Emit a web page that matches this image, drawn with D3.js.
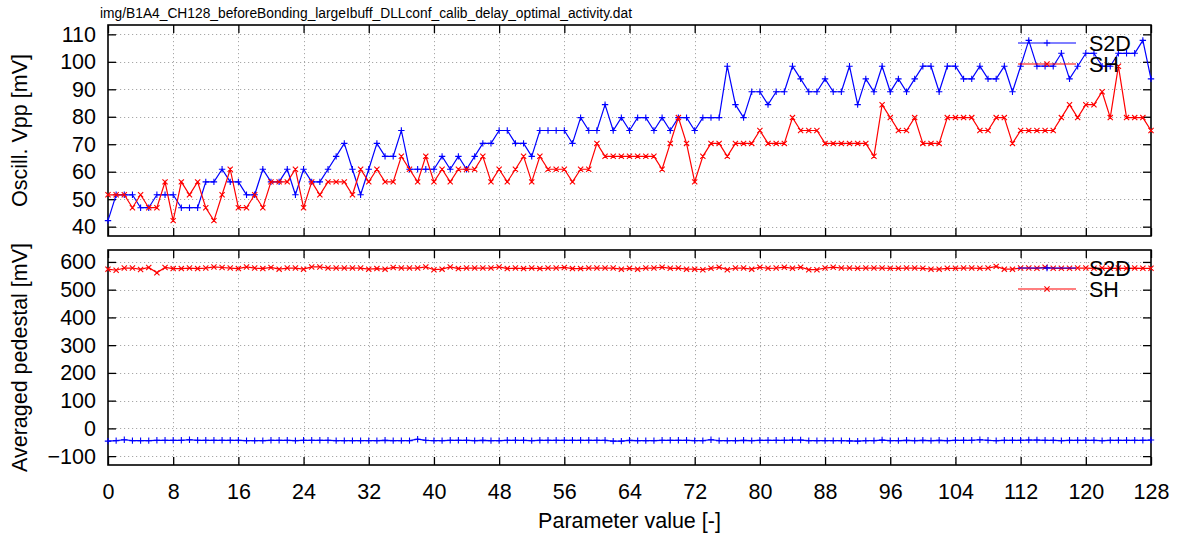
<!DOCTYPE html>
<html>
<head>
<meta charset="utf-8">
<script src="https://cdn.jsdelivr.net/npm/d3@7"></script>
<style>
  body { margin: 0; background: #fff; }
  svg { display: block; }
  text { font-family: "Liberation Sans", Arial, Helvetica, sans-serif; fill: #000; }
</style>
</head>
<body>
<svg id="chart" width="1178" height="535"></svg>
<script>
// Scanned DLL parameter values
const params = d3.range(0, 129);

// Oscilloscope peak-to-peak amplitude [mV]
const s2dVpp = [
  42.2,51.6,51.6,51.6,46.9,46.9,51.6,51.6,51.6,46.9,46.9,46.9,56.3,56.3,60.9,56.3,
  56.3,51.6,51.6,60.9,56.3,56.3,60.9,51.6,60.9,56.3,56.3,60.9,65.6,70.3,60.9,51.6,
  60.9,70.3,65.6,65.6,75.0,60.9,60.9,60.9,60.9,65.6,60.9,65.6,60.9,65.6,70.3,70.3,
  75.0,75.0,70.3,70.3,65.6,75.0,75.0,75.0,75.0,70.3,79.7,75.0,75.0,84.4,75.0,79.7,
  75.0,79.7,79.7,75.0,79.7,75.0,79.7,79.7,75.0,79.7,79.7,79.7,98.4,84.4,79.7,89.1,
  89.1,84.4,89.1,89.1,98.4,93.8,89.1,89.1,93.8,89.1,89.1,98.4,84.4,93.8,89.1,98.4,
  89.1,93.8,89.1,93.8,98.4,98.4,89.1,98.4,98.4,93.8,93.8,98.4,93.8,93.8,98.4,89.1,
  98.4,107.8,98.4,98.4,98.4,103.1,93.8,98.4,103.1,103.1,98.4,98.4,103.1,103.1,103.1,107.8,
  93.8
];
const shVpp = [
  51.6,51.6,51.6,46.9,51.6,46.9,46.9,56.3,42.2,56.3,51.6,56.3,46.9,42.2,51.6,60.9,
  46.9,46.9,51.6,46.9,56.3,56.3,56.3,60.9,46.9,56.3,51.6,56.3,56.3,56.3,51.6,60.9,
  56.3,60.9,56.3,56.3,65.6,60.9,56.3,65.6,56.3,60.9,56.3,60.9,60.9,60.9,65.6,56.3,
  60.9,56.3,60.9,65.6,56.3,65.6,60.9,60.9,60.9,56.3,60.9,60.9,70.3,65.6,65.6,65.6,
  65.6,65.6,65.6,65.6,60.9,70.3,79.7,70.3,56.3,65.6,70.3,70.3,65.6,70.3,70.3,70.3,
  75.0,70.3,70.3,70.3,79.7,75.0,75.0,75.0,70.3,70.3,70.3,70.3,70.3,70.3,65.6,84.4,
  79.7,75.0,75.0,79.7,70.3,70.3,70.3,79.7,79.7,79.7,79.7,75.0,75.0,79.7,79.7,70.3,
  75.0,75.0,75.0,75.0,75.0,79.7,84.4,79.7,84.4,84.4,89.1,79.7,98.4,79.7,79.7,79.7,
  75.0
];

// Averaged pedestal level [mV]
const s2dPed = [
  -46,-44,-41,-44,-44,-44,-43,-43,-43,-43,-41,-43,-43,-43,-43,-43,
  -43,-44,-44,-44,-43,-43,-43,-44,-43,-43,-43,-43,-44,-44,-44,-44,
  -44,-44,-43,-44,-44,-44,-39,-43,-44,-44,-43,-43,-43,-44,-43,-44,
  -44,-43,-43,-43,-44,-43,-43,-43,-43,-43,-43,-43,-43,-43,-46,-46,
  -43,-44,-44,-44,-43,-43,-43,-43,-44,-44,-41,-44,-44,-44,-43,-44,
  -43,-43,-43,-43,-42,-42,-44,-44,-44,-44,-44,-45,-46,-44,-44,-42,
  -44,-44,-43,-44,-43,-44,-43,-44,-43,-43,-43,-41,-43,-44,-43,-43,
  -43,-42,-42,-43,-43,-44,-43,-43,-43,-43,-44,-43,-43,-43,-43,-43,
  -42
];
const shPed = [
  574,570,578,578,573,580,561,580,576,576,578,576,578,582,580,578,
  576,582,578,576,580,574,578,578,574,582,582,578,578,578,578,578,
  574,576,574,580,578,578,578,582,572,574,582,576,578,578,578,578,
  582,576,578,576,578,576,578,578,580,576,576,578,578,578,578,574,
  577,574,578,578,581,577,578,574,574,572,577,581,572,578,578,574,
  581,577,578,581,577,581,572,572,578,581,578,578,577,578,578,578,
  577,577,578,578,577,574,574,577,577,578,578,577,578,584,574,574,
  578,578,577,581,577,577,577,578,578,577,578,577,578,577,578,577,
  577
];

const seriesNames = ["S2D", "SH"];
const xTicks = [0, 8, 16, 24, 32, 40, 48, 56, 64, 72, 80, 88, 96, 104, 112, 120, 128];
const vppTicks = [40, 50, 60, 70, 80, 90, 100, 110];
const pedTicks = [-100, 0, 100, 200, 300, 400, 500, 600];
const titleText = "img/B1A4_CH128_beforeBonding_largeIbuff_DLLconf_calib_delay_optimal_activity.dat";
const xLabel = "Parameter value [-]";

const colors = ["#0000ff", "#ff0000"];
const fontSize = 21.5;

const svg = d3.select("#chart");
const left = 108, right = 1151;
const x = d3.scaleLinear().domain([0, 128]).range([left, right]);

const panels = [
  { top: 25, bottom: 236, domain: [36.6, 113.4], ticks: vppTicks,
    label: "Oscill. Vpp [mV]", series: [s2dVpp, shVpp], legendY: [43, 64], xLabels: false },
  { top: 250, bottom: 465, domain: [-132, 643], ticks: pedTicks,
    label: "Averaged pedestal [mV]", series: [s2dPed, shPed], legendY: [268, 289], xLabels: true }
];

// Marker shapes: "+" for S2D, "x" for SH
function markerPath(type, cx, cy) {
  if (type === 0) {
    const r = 3.2;
    return `M${cx - r},${cy}H${cx + r}M${cx},${cy - r}V${cy + r}`;
  }
  const r = 2.6;
  return `M${cx - r},${cy - r}L${cx + r},${cy + r}M${cx - r},${cy + r}L${cx + r},${cy - r}`;
}

// Title
svg.append("text")
  .attr("x", 100).attr("y", 18)
  .attr("textLength", 532).attr("lengthAdjust", "spacingAndGlyphs")
  .style("font-family", '"Liberation Sans Narrow", "Liberation Sans", Arial, sans-serif')
  .style("font-size", "14px")
  .text(titleText);

panels.forEach(p => {
  const y = d3.scaleLinear().domain(p.domain).range([p.bottom, p.top]);
  const g = svg.append("g");

  // dotted grid
  const grid = g.append("g").attr("stroke", "#a8a8a8").attr("stroke-width", 1)
    .attr("stroke-dasharray", "1.2,2.8").attr("fill", "none");
  grid.selectAll("line.h").data(p.ticks).join("line")
    .attr("x1", left).attr("x2", right)
    .attr("y1", d => Math.round(y(d)) + 0.5).attr("y2", d => Math.round(y(d)) + 0.5);
  grid.selectAll("line.v").data(xTicks.slice(1, -1)).join("line")
    .attr("x1", d => Math.round(x(d)) + 0.5).attr("x2", d => Math.round(x(d)) + 0.5)
    .attr("y1", p.top).attr("y2", p.bottom);

  // axes with inward ticks on all four sides
  const styleAxis = sel => {
    sel.select(".domain").remove();
    sel.selectAll(".tick line").attr("stroke", "#000").attr("stroke-width", 1.3);
    sel.selectAll("text").style("font-size", fontSize + "px")
      .style("font-family", '"Liberation Sans", Arial, sans-serif').attr("fill", "#000");
  };
  g.append("g").attr("transform", `translate(${left},0)`)
    .call(d3.axisLeft(y).tickValues(p.ticks).tickSize(-8).tickPadding(12).tickFormat(d3.format("d")))
    .call(styleAxis);
  g.append("g").attr("transform", `translate(${right},0)`)
    .call(d3.axisRight(y).tickValues(p.ticks).tickSize(-8).tickFormat(""))
    .call(styleAxis);
  g.append("g").attr("transform", `translate(0,${p.bottom})`)
    .call(d3.axisBottom(x).tickValues(xTicks).tickSize(-8).tickPadding(19)
      .tickFormat(p.xLabels ? d3.format("d") : ""))
    .call(styleAxis);
  g.append("g").attr("transform", `translate(0,${p.top})`)
    .call(d3.axisTop(x).tickValues(xTicks).tickSize(-8).tickFormat(""))
    .call(styleAxis);

  // frame
  g.append("rect").attr("x", left).attr("y", p.top)
    .attr("width", right - left).attr("height", p.bottom - p.top)
    .attr("fill", "none").attr("stroke", "#000").attr("stroke-width", 1.6);

  // y label
  g.append("text")
    .attr("transform", `translate(27,${(p.top + p.bottom) / 2}) rotate(-90)`)
    .attr("text-anchor", "middle").style("font-size", fontSize + "px")
    .text(p.label);

  // data lines and markers
  p.series.forEach((vals, si) => {
    const line = d3.line().x((d, i) => x(params[i])).y(d => y(d));
    g.append("path").datum(vals).attr("d", line)
      .attr("fill", "none").attr("stroke", colors[si]).attr("stroke-width", 1.2);
    g.append("path")
      .attr("d", vals.map((v, i) => markerPath(si, x(params[i]), y(v))).join(""))
      .attr("fill", "none").attr("stroke", colors[si]).attr("stroke-width", 1.1);
  });

  // legend
  seriesNames.forEach((name, si) => {
    const ly = p.legendY[si];
    g.append("line").attr("x1", 1018).attr("x2", 1076).attr("y1", ly).attr("y2", ly)
      .attr("stroke", colors[si]).attr("stroke-width", 1.2);
    g.append("path").attr("d", markerPath(si, 1047, ly))
      .attr("fill", "none").attr("stroke", colors[si]).attr("stroke-width", 1.1);
    g.append("text").attr("x", 1089).attr("y", ly + 8)
      .style("font-size", fontSize + "px").text(name);
  });
});

// x-axis title
svg.append("text")
  .attr("x", (left + right) / 2).attr("y", 528)
  .attr("text-anchor", "middle").style("font-size", fontSize + "px")
  .text(xLabel);
</script>
</body>
</html>
